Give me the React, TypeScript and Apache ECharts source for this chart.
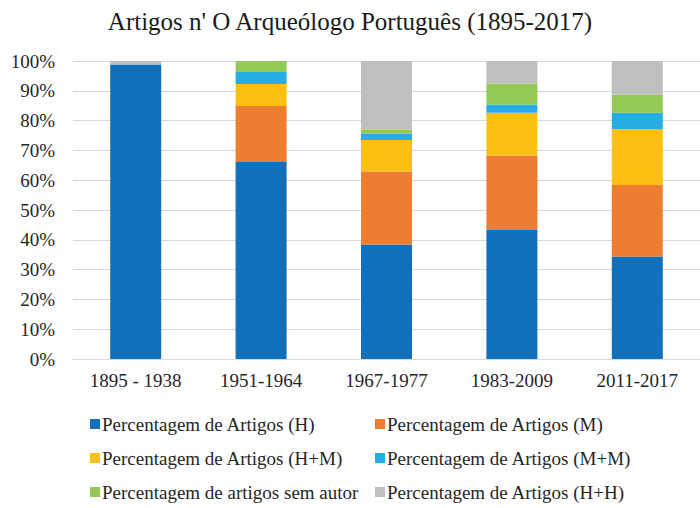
import React, { useEffect, useRef } from "react";
import * as echarts from "echarts";

const categories = ["1895 - 1938", "1951-1964", "1967-1977", "1983-2009", "2011-2017"];
const seriesNames = [
  "Percentagem de Artigos (H)",
  "Percentagem de Artigos (M)",
  "Percentagem de Artigos (H+M)",
  "Percentagem de Artigos (M+M)",
  "Percentagem de artigos sem autor",
  "Percentagem de Artigos (H+H)",
];
const valuesH = [98.8, 66.1, 38.4, 43.3, 34.4];
const valuesM = [0, 18.8, 24.5, 25.0, 24.0];
const valuesHM = [0, 7.4, 10.6, 14.3, 18.8];
const valuesMM = [0, 4.0, 2.1, 2.8, 5.4];
const valuesSemAutor = [0, 3.7, 1.3, 7.0, 6.1];
const valuesHH = [1.2, 0, 23.1, 7.6, 11.3];
const seriesColors = ["#1170B9", "#ED7D31", "#FCC012", "#27ACE3", "#93C955", "#BFBFBF"];

const FONT = "'Liberation Serif', 'Times New Roman', serif";

export default function App() {
  const ref = useRef<HTMLDivElement>(null);
  useEffect(() => {
    if (!ref.current) return;
    const chart = echarts.init(ref.current, undefined, { renderer: "svg" });
    const allValues = [valuesH, valuesM, valuesHM, valuesMM, valuesSemAutor, valuesHH];
    const legendText = { fontFamily: FONT, fontSize: 19, color: "#262626", padding: [0, 0, 0, -3], lineHeight: 22 };
    chart.setOption({
      animation: false,
      title: {
        text: "Artigos n' O Arqueólogo Português (1895-2017)",
        left: "center",
        top: 4,
        textStyle: { fontFamily: FONT, fontSize: 25, fontWeight: "normal", color: "#1a1a1a" },
      },
      grid: { left: 73, top: 61, width: 637, height: 298 },
      legend: [
        {
          orient: "vertical",
          left: 85,
          top: 408,
          height: 110,
          itemWidth: 10,
          itemHeight: 10,
          itemGap: 12,
          icon: "rect",
          textStyle: legendText,
          data: [seriesNames[0], seriesNames[2], seriesNames[4]],
        },
        {
          orient: "vertical",
          left: 370,
          top: 408,
          height: 110,
          itemWidth: 10,
          itemHeight: 10,
          itemGap: 12,
          icon: "rect",
          textStyle: legendText,
          data: [seriesNames[1], seriesNames[3], seriesNames[5]],
        },
      ],
      xAxis: {
        type: "category",
        data: categories,
        axisTick: { show: false },
        axisLine: { lineStyle: { color: "#d9d9d9" } },
        axisLabel: { fontFamily: FONT, fontSize: 19, color: "#262626", margin: 12 },
      },
      yAxis: {
        type: "value",
        min: 0,
        max: 100,
        interval: 10,
        axisLabel: { formatter: "{value}%", fontFamily: FONT, fontSize: 19, color: "#262626", margin: 18 },
        splitLine: { lineStyle: { color: "#d9d9d9", width: 1 } },
        axisLine: { show: false },
        axisTick: { show: false },
      },
      series: seriesNames.map((name, i) => ({
        name,
        type: "bar",
        stack: "total",
        barWidth: 51,
        data: allValues[i],
        itemStyle: { color: seriesColors[i] },
      })),
    });
    return () => chart.dispose();
  }, []);
  return <div ref={ref} style={{ width: 700, height: 508, position: "absolute", left: 0, top: 0 }} />;
}
